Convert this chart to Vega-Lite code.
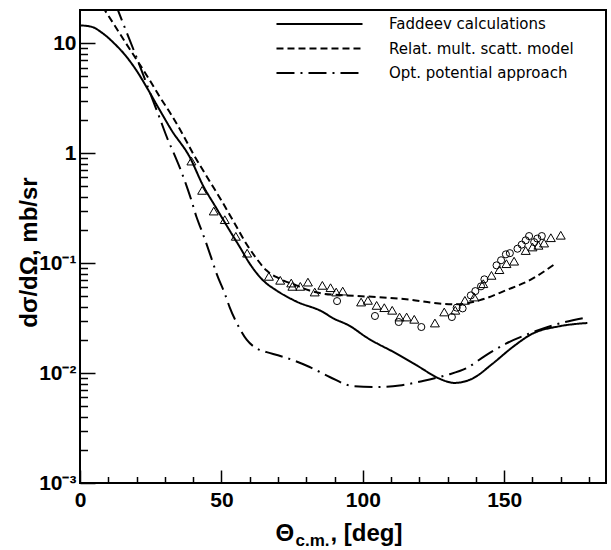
{
  "$schema": "https://vega.github.io/schema/vega-lite/v6.json",
  "width": 526,
  "height": 473,
  "autosize": {"type": "none"},
  "padding": {"left": 80, "top": 10, "right": 5, "bottom": 67},
  "background": "white",
  "config": {
    "view": {"stroke": "black", "strokeWidth": 2},
    "axis": {
      "domain": false, "grid": false, "tickColor": "black", "tickWidth": 1.5,
      "labelFont": "Liberation Sans", "labelFontWeight": "bold", "labelFontSize": 21, "labelColor": "black",
      "titleFont": "Liberation Sans", "titleFontWeight": "bold", "titleColor": "black",
      "labelFlush": false, "labelOverlap": false
    }
  },
  "datasets": {
    "curves": [
      {"s": "Faddeev calculations", "deg": 0, "v": 14.5},
      {"s": "Faddeev calculations", "deg": 4, "v": 14.1},
      {"s": "Faddeev calculations", "deg": 8, "v": 12.3},
      {"s": "Faddeev calculations", "deg": 12, "v": 10.0},
      {"s": "Faddeev calculations", "deg": 16, "v": 7.76},
      {"s": "Faddeev calculations", "deg": 20, "v": 5.62},
      {"s": "Faddeev calculations", "deg": 24, "v": 3.80},
      {"s": "Faddeev calculations", "deg": 28, "v": 2.51},
      {"s": "Faddeev calculations", "deg": 32.4, "v": 1.61},
      {"s": "Faddeev calculations", "deg": 38.8, "v": 0.92},
      {"s": "Faddeev calculations", "deg": 43.4, "v": 0.513},
      {"s": "Faddeev calculations", "deg": 48.3, "v": 0.313},
      {"s": "Faddeev calculations", "deg": 52.9, "v": 0.198},
      {"s": "Faddeev calculations", "deg": 56.5, "v": 0.14},
      {"s": "Faddeev calculations", "deg": 60, "v": 0.0989},
      {"s": "Faddeev calculations", "deg": 64.7, "v": 0.0697},
      {"s": "Faddeev calculations", "deg": 69.4, "v": 0.0565},
      {"s": "Faddeev calculations", "deg": 76.5, "v": 0.0447},
      {"s": "Faddeev calculations", "deg": 85.9, "v": 0.0359},
      {"s": "Faddeev calculations", "deg": 89.4, "v": 0.0316},
      {"s": "Faddeev calculations", "deg": 95.3, "v": 0.0269},
      {"s": "Faddeev calculations", "deg": 101.2, "v": 0.0212},
      {"s": "Faddeev calculations", "deg": 113, "v": 0.0145},
      {"s": "Faddeev calculations", "deg": 120, "v": 0.01135},
      {"s": "Faddeev calculations", "deg": 127, "v": 0.00891},
      {"s": "Faddeev calculations", "deg": 132.4, "v": 0.00813},
      {"s": "Faddeev calculations", "deg": 138.8, "v": 0.00891},
      {"s": "Faddeev calculations", "deg": 145.9, "v": 0.01216},
      {"s": "Faddeev calculations", "deg": 153, "v": 0.01722},
      {"s": "Faddeev calculations", "deg": 160, "v": 0.0228},
      {"s": "Faddeev calculations", "deg": 169.4, "v": 0.0266},
      {"s": "Faddeev calculations", "deg": 179.4, "v": 0.0285},
      {"s": "Relat. mult. scatt. model", "deg": 8, "v": 21.4},
      {"s": "Relat. mult. scatt. model", "deg": 12, "v": 14.8},
      {"s": "Relat. mult. scatt. model", "deg": 16, "v": 10.2},
      {"s": "Relat. mult. scatt. model", "deg": 20, "v": 7.08},
      {"s": "Relat. mult. scatt. model", "deg": 24, "v": 4.90},
      {"s": "Relat. mult. scatt. model", "deg": 28, "v": 3.31},
      {"s": "Relat. mult. scatt. model", "deg": 32, "v": 2.29},
      {"s": "Relat. mult. scatt. model", "deg": 35.9, "v": 1.55},
      {"s": "Relat. mult. scatt. model", "deg": 40, "v": 0.989},
      {"s": "Relat. mult. scatt. model", "deg": 45.3, "v": 0.585},
      {"s": "Relat. mult. scatt. model", "deg": 50, "v": 0.371},
      {"s": "Relat. mult. scatt. model", "deg": 54.1, "v": 0.244},
      {"s": "Relat. mult. scatt. model", "deg": 58.8, "v": 0.150},
      {"s": "Relat. mult. scatt. model", "deg": 62.4, "v": 0.110},
      {"s": "Relat. mult. scatt. model", "deg": 65.9, "v": 0.0859},
      {"s": "Relat. mult. scatt. model", "deg": 70.6, "v": 0.0721},
      {"s": "Relat. mult. scatt. model", "deg": 76.5, "v": 0.0627},
      {"s": "Relat. mult. scatt. model", "deg": 81.2, "v": 0.0562},
      {"s": "Relat. mult. scatt. model", "deg": 85.9, "v": 0.0527},
      {"s": "Relat. mult. scatt. model", "deg": 94.1, "v": 0.0508},
      {"s": "Relat. mult. scatt. model", "deg": 104.7, "v": 0.0491},
      {"s": "Relat. mult. scatt. model", "deg": 116.5, "v": 0.0465},
      {"s": "Relat. mult. scatt. model", "deg": 127, "v": 0.0428},
      {"s": "Relat. mult. scatt. model", "deg": 133, "v": 0.0421},
      {"s": "Relat. mult. scatt. model", "deg": 141.2, "v": 0.0458},
      {"s": "Relat. mult. scatt. model", "deg": 150.6, "v": 0.0565},
      {"s": "Relat. mult. scatt. model", "deg": 160, "v": 0.0721},
      {"s": "Relat. mult. scatt. model", "deg": 167.7, "v": 0.0973},
      {"s": "Opt. potential approach", "deg": 12.5, "v": 22.9},
      {"s": "Opt. potential approach", "deg": 16, "v": 13.5},
      {"s": "Opt. potential approach", "deg": 20, "v": 7.41},
      {"s": "Opt. potential approach", "deg": 24, "v": 3.98},
      {"s": "Opt. potential approach", "deg": 28, "v": 2.14},
      {"s": "Opt. potential approach", "deg": 31.2, "v": 1.30},
      {"s": "Opt. potential approach", "deg": 33, "v": 1.02},
      {"s": "Opt. potential approach", "deg": 35.9, "v": 0.672},
      {"s": "Opt. potential approach", "deg": 37.4, "v": 0.527},
      {"s": "Opt. potential approach", "deg": 39.4, "v": 0.371},
      {"s": "Opt. potential approach", "deg": 41.2, "v": 0.262},
      {"s": "Opt. potential approach", "deg": 43, "v": 0.198},
      {"s": "Opt. potential approach", "deg": 44.7, "v": 0.15},
      {"s": "Opt. potential approach", "deg": 46.5, "v": 0.11},
      {"s": "Opt. potential approach", "deg": 48.3, "v": 0.080},
      {"s": "Opt. potential approach", "deg": 51.2, "v": 0.0527},
      {"s": "Opt. potential approach", "deg": 52.9, "v": 0.0398},
      {"s": "Opt. potential approach", "deg": 56.5, "v": 0.0253},
      {"s": "Opt. potential approach", "deg": 59, "v": 0.020},
      {"s": "Opt. potential approach", "deg": 62, "v": 0.017},
      {"s": "Opt. potential approach", "deg": 66, "v": 0.0155},
      {"s": "Opt. potential approach", "deg": 70, "v": 0.0145},
      {"s": "Opt. potential approach", "deg": 76, "v": 0.0129},
      {"s": "Opt. potential approach", "deg": 81.2, "v": 0.01135},
      {"s": "Opt. potential approach", "deg": 88.3, "v": 0.0092},
      {"s": "Opt. potential approach", "deg": 96.5, "v": 0.0076},
      {"s": "Opt. potential approach", "deg": 104.7, "v": 0.00746},
      {"s": "Opt. potential approach", "deg": 113, "v": 0.0077},
      {"s": "Opt. potential approach", "deg": 121.2, "v": 0.00845},
      {"s": "Opt. potential approach", "deg": 129.4, "v": 0.00955},
      {"s": "Opt. potential approach", "deg": 136.5, "v": 0.011},
      {"s": "Opt. potential approach", "deg": 143.5, "v": 0.0145},
      {"s": "Opt. potential approach", "deg": 150.6, "v": 0.0185},
      {"s": "Opt. potential approach", "deg": 158.8, "v": 0.0228},
      {"s": "Opt. potential approach", "deg": 167.1, "v": 0.0271},
      {"s": "Opt. potential approach", "deg": 178.8, "v": 0.0319}
    ],
    "tri": [
      {"deg": 39.4, "v": 0.846}, {"deg": 43.2, "v": 0.458}, {"deg": 47.3, "v": 0.297},
      {"deg": 51.2, "v": 0.248}, {"deg": 55.1, "v": 0.175}, {"deg": 59.1, "v": 0.123},
      {"deg": 66.8, "v": 0.0757}, {"deg": 70.8, "v": 0.0697}, {"deg": 74.7, "v": 0.0658},
      {"deg": 75.1, "v": 0.0614}, {"deg": 77.9, "v": 0.0614}, {"deg": 80.6, "v": 0.0671},
      {"deg": 83.0, "v": 0.0545}, {"deg": 85.7, "v": 0.0627}, {"deg": 88.6, "v": 0.0597},
      {"deg": 90.6, "v": 0.0545}, {"deg": 92.9, "v": 0.0556}, {"deg": 99.4, "v": 0.0442},
      {"deg": 101.8, "v": 0.0458}, {"deg": 104.9, "v": 0.0412}, {"deg": 107.6, "v": 0.0393},
      {"deg": 110.4, "v": 0.0372}, {"deg": 113.0, "v": 0.0323}, {"deg": 115.5, "v": 0.0323},
      {"deg": 118.2, "v": 0.0308}, {"deg": 125.5, "v": 0.0285}, {"deg": 128.8, "v": 0.0359},
      {"deg": 132.7, "v": 0.0372}, {"deg": 136.1, "v": 0.0458}, {"deg": 139.4, "v": 0.0491},
      {"deg": 142.6, "v": 0.0649}, {"deg": 145.5, "v": 0.0773}, {"deg": 148.3, "v": 0.0871},
      {"deg": 150.8, "v": 0.0987}, {"deg": 153.5, "v": 0.104}, {"deg": 157.6, "v": 0.130},
      {"deg": 160.0, "v": 0.140}, {"deg": 162.1, "v": 0.145}, {"deg": 164.1, "v": 0.152},
      {"deg": 166.5, "v": 0.170}, {"deg": 170.0, "v": 0.179}
    ],
    "circ": [
      {"deg": 90.9, "v": 0.0451}, {"deg": 104.3, "v": 0.033}, {"deg": 112.7, "v": 0.0291},
      {"deg": 120.7, "v": 0.0262}, {"deg": 131.5, "v": 0.0323}, {"deg": 133.2, "v": 0.0393},
      {"deg": 135.3, "v": 0.0387}, {"deg": 138.2, "v": 0.0508}, {"deg": 139.8, "v": 0.0556},
      {"deg": 141.8, "v": 0.0614}, {"deg": 143.0, "v": 0.0711}, {"deg": 147.3, "v": 0.0953},
      {"deg": 148.9, "v": 0.106}, {"deg": 150.6, "v": 0.120}, {"deg": 152.0, "v": 0.123},
      {"deg": 154.7, "v": 0.135}, {"deg": 156.2, "v": 0.147}, {"deg": 157.6, "v": 0.161},
      {"deg": 158.8, "v": 0.176}, {"deg": 160.6, "v": 0.155}, {"deg": 161.7, "v": 0.167},
      {"deg": 163.3, "v": 0.176}
    ]
  },
  "layer": [
    {
      "data": {"name": "curves"},
      "mark": {"type": "line", "color": "black", "strokeWidth": 2, "clip": true, "interpolate": "monotone"},
      "encoding": {
        "x": {
          "field": "deg", "type": "quantitative",
          "scale": {"domain": [0, 186], "nice": false},
          "axis": {
            "orient": "bottom", "values": [0, 50, 100, 150], "tickSize": -13, "labelPadding": 19, "format": "d",
            "title": "Θ", "titleFontSize": 24, "titleX": 195, "titleY": 57, "titleAlign": "left", "titleBaseline": "alphabetic", "titleAngle": 0
          }
        },
        "y": {
          "field": "v", "type": "quantitative",
          "scale": {"type": "log", "domain": [0.001, 20], "nice": false},
          "axis": {
            "orient": "left", "values": [0.001, 0.01, 0.1, 1, 10], "tickSize": -15, "labelPadding": 19,
            "labelExpr": "datum.value >= 5 ? '10' : datum.value >= 0.5 ? '1' : datum.value >= 0.05 ? '10⁻¹' : datum.value >= 0.005 ? '10⁻²' : '10⁻³'",
            "title": "dσ/dΩ, mb/sr", "titleFontSize": 24, "titleX": -44, "titleY": 242, "titleAngle": -90, "titleAlign": "center", "titleBaseline": "alphabetic"
          }
        },
        "strokeDash": {
          "field": "s", "type": "nominal",
          "scale": {
            "domain": ["Faddeev calculations", "Relat. mult. scatt. model", "Opt. potential approach"],
            "range": [[1, 0], [7, 4], [18, 6, 2, 6]]
          },
          "legend": {
            "orient": "none", "legendX": 195, "legendY": 2, "title": null,
            "symbolType": "stroke", "symbolSize": 7400, "symbolStrokeWidth": 2, "symbolStrokeColor": "black",
            "labelFont": "DejaVu Sans", "labelFontSize": 15, "labelColor": "black", "labelOffset": 25,
            "clipHeight": 24, "rowPadding": 0.5, "padding": 0, "labelLimit": 300
          }
        }
      }
    },
    {
      "data": {"name": "tri"},
      "mark": {"type": "point", "shape": "triangle-up", "filled": false, "stroke": "black", "strokeWidth": 1, "size": 80, "opacity": 1},
      "encoding": {
        "x": {
          "field": "deg", "type": "quantitative", "scale": {"domain": [0, 186], "nice": false},
          "axis": {
            "orient": "bottom", "values": [10, 20, 30, 40, 60, 70, 80, 90, 110, 120, 130, 140, 160, 170, 180],
            "tickSize": -6.5, "labels": false,
            "title": "c.m.", "titleFontSize": 17, "titleX": 215, "titleY": 62, "titleAlign": "left", "titleBaseline": "alphabetic", "titleAngle": 0
          }
        },
        "y": {
          "field": "v", "type": "quantitative", "scale": {"type": "log", "domain": [0.001, 20], "nice": false},
          "axis": {
            "orient": "left",
            "values": [0.002, 0.003, 0.004, 0.005, 0.006, 0.007, 0.008, 0.009, 0.02, 0.03, 0.04, 0.05, 0.06, 0.07, 0.08, 0.09, 0.2, 0.3, 0.4, 0.5, 0.6, 0.7, 0.8, 0.9, 2, 3, 4, 5, 6, 7, 8, 9],
            "tickSize": -7.5, "labels": false, "title": null
          }
        }
      }
    },
    {
      "data": {"name": "circ"},
      "mark": {"type": "point", "shape": "circle", "filled": false, "stroke": "black", "strokeWidth": 1, "size": 50, "opacity": 1},
      "encoding": {
        "x": {
          "field": "deg", "type": "quantitative", "scale": {"domain": [0, 186], "nice": false},
          "axis": {
            "orient": "bottom", "ticks": false, "labels": false,
            "title": ", [deg]", "titleFontSize": 24, "titleX": 250, "titleY": 57, "titleAlign": "left", "titleBaseline": "alphabetic", "titleAngle": 0
          }
        },
        "y": {
          "field": "v", "type": "quantitative", "scale": {"type": "log", "domain": [0.001, 20], "nice": false},
          "axis": null
        }
      }
    }
  ],
  "resolve": {"axis": {"x": "independent", "y": "independent"}}
}
